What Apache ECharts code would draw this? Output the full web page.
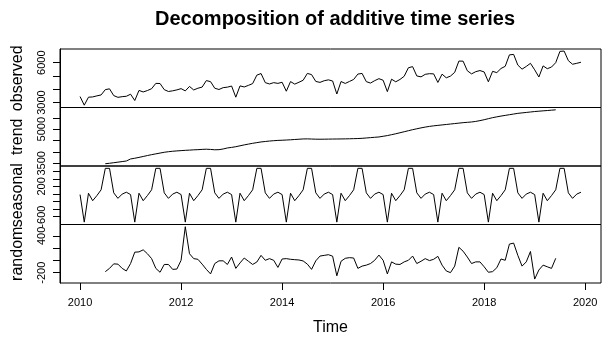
<!DOCTYPE html>
<html>
<head>
<meta charset="utf-8">
<script src="https://cdn.jsdelivr.net/npm/echarts@6/dist/echarts.min.js"></script>
<style>
  html, body { margin: 0; padding: 0; background: #fff; }
  #chart { width: 609px; height: 339px; }
</style>
</head>
<body>
<div id="chart"></div>
<script>
// monthly series, frequency 12
const startYear = 2010
const freq = 12

const observed = [
  3450, 2800, 3400, 3420, 3500, 3570, 3970, 4030, 3520, 3390, 3440, 3470,
  3625, 3150, 3910, 3795, 3900, 4040, 4440, 4430, 3970, 3830, 3880, 3950,
  4045, 3875, 4210, 3945, 4075, 4160, 4650, 4570, 4075, 3980, 4120, 4155,
  4240, 3400, 4250, 4170, 4290, 4425, 5060, 5180, 4495, 4395, 4495, 4440,
  4525, 3850, 4575, 4385, 4525, 4675, 5190, 5100, 4585, 4515, 4640, 4705,
  4620, 3640, 4580, 4435, 4585, 4735, 5140, 5190, 4570, 4465, 4645, 4795,
  4675, 3820, 4755, 4560, 4735, 4975, 5615, 5700, 5000, 4930, 5120, 5170,
  5155, 4510, 5135, 4860, 4990, 5270, 6120, 6110, 5390, 5155, 5320, 5405,
  5300, 4560, 5345, 5250, 5560, 5725, 6585, 6620, 5815, 5510, 5715, 5950,
  5460, 4920, 5755, 5545, 5670, 6000, 6850, 6870, 6150, 5880, 5950, 6030
]

// trend and random start at Jul 2010 (index 6)
const trendStart = 6
const trend = [
  3480, 3500, 3525, 3550, 3575, 3600,
  3690, 3722, 3760, 3800, 3840, 3880, 3915, 3950, 3985, 4010, 4030, 4045,
  4058, 4070, 4080, 4092, 4100, 4112, 4120, 4110, 4095, 4100, 4130, 4175,
  4200, 4230, 4270, 4310, 4345, 4380, 4410, 4440, 4460, 4480, 4495, 4508,
  4515, 4525, 4535, 4548, 4560, 4572, 4575, 4568, 4562, 4560, 4562, 4565,
  4568, 4570, 4572, 4576, 4580, 4585, 4590, 4600, 4615, 4630, 4645, 4660,
  4690, 4720, 4760, 4800, 4845, 4890, 4935, 4980, 5020, 5060, 5095, 5125,
  5150, 5170, 5190, 5210, 5230, 5250, 5270, 5290, 5305, 5320, 5345, 5380,
  5420, 5465, 5510, 5545, 5580, 5610, 5640, 5670, 5700, 5720, 5740, 5760,
  5780, 5795, 5810, 5825, 5840, 5856
]

// one year of the seasonal figure, Jan..Dec
const seasonalPattern = [-16, -745, 19, -178, -43, 110, 678, 678, 30, -116, -3, 46]
const seasonalYears = 10

const random = [
  -182, -129, -55, -60, -129, -171,
  -50, 135, 140, 173, 110, 30, -129, -192, -65, -65, -145, -140,
  3, 550, 110, 30, 19, -60, -145, -219, -50, -6, -6, -65,
  56, -129, -40, 40, -13, -65, -25, 83, 3, 30, 3, -113,
  24, 30, 19, 13, 8, -8, -60, -145, -6, 72, 83, 94,
  70, -250, -13, 35, 46, 40, -129, -92, -76, -50, 3, 88,
  3, -219, -23, -60, -65, -23, 3, 72, -50, -13, 30, -2,
  19, 67, -76, -171, -198, -92, 214, 151, 56, -50, -23, -23,
  -103, -192, -182, -119, 24, 3, 267, 283, 83, -92, -23, 146,
  -303, -155, -76, -103, -129, 35
]

const panelNames = ['observed', 'trend', 'seasonal', 'random']
const yRanges = [[2625, 7027], [3380, 5958], [-808, 740], [-367, 586]]
const yTicks = [
  [3000, 4000, 5000, 6000],
  [3500, 4000, 4500, 5000, 5500],
  [-600, -400, -200, 0, 200, 400, 600],
  [-200, 0, 200, 400]
]
const yLabels = [[3000, 6000], [3500, 5000], [-600, 200], [-200, 400]]
const xTicks = [2010, 2012, 2014, 2016, 2018, 2020]
const xRange = [2009.603, 2020.313]

const seasonal = []
for (let y = 0; y < seasonalYears; y++) seasonal.push(...seasonalPattern)

const toTs = (values, offset) => values.map((v, i) => [startYear + (offset + i) / freq, v])
const panelData = [toTs(observed, 0), toTs(trend, trendStart), toTs(seasonal, 0), toTs(random, trendStart)]

const font = 'Liberation Sans, Arial, sans-serif'
const tops = [49, 107.5, 166, 224.5]
const panelH = 58.5
const plain = v => String(v)

const chart = echarts.init(document.getElementById('chart'), null, { renderer: 'canvas' })

chart.setOption({
  animation: false,
  backgroundColor: '#fff',
  title: {
    text: 'Decomposition of additive time series',
    left: 330,
    top: 4,
    textAlign: 'center',
    textStyle: { fontFamily: font, fontSize: 20, fontWeight: 'bold', color: '#000' }
  },
  grid: tops.map(t => ({
    left: 60, right: 8, top: t, height: panelH,
    show: true, borderColor: '#000', borderWidth: 1, backgroundColor: 'transparent'
  })),
  xAxis: tops.map((t, i) => {
    const last = i === tops.length - 1
    return {
      type: 'value', gridIndex: i, min: xRange[0], max: xRange[1],
      show: last,
      position: 'bottom',
      splitLine: { show: false },
      axisLine: { show: false, onZero: false },
      axisTick: { show: last, length: 7, customValues: xTicks, lineStyle: { color: '#000' } },
      axisLabel: { show: last, customValues: xTicks, formatter: plain, margin: 14, color: '#000', fontSize: 11, fontFamily: font },
      name: last ? 'Time' : '',
      nameLocation: 'middle',
      nameGap: 37,
      nameTextStyle: { fontSize: 16, fontFamily: font, color: '#000' }
    }
  }),
  yAxis: tops.map((t, i) => ({
    type: 'value', gridIndex: i, min: yRanges[i][0], max: yRanges[i][1],
    splitLine: { show: false },
    axisLine: { show: true, onZero: false, lineStyle: { color: '#000' } },
    axisTick: { show: true, length: 7, customValues: yTicks[i], lineStyle: { color: '#000' } },
    axisLabel: { customValues: yLabels[i], formatter: plain, rotate: 90, margin: 13, color: '#000', fontSize: 11, fontFamily: font },
    name: panelNames[i],
    nameLocation: 'middle',
    nameRotate: 90,
    nameGap: 34,
    nameTextStyle: { fontSize: 16, fontFamily: font, color: '#000' }
  })),
  series: panelData.map((d, i) => ({
    type: 'line', xAxisIndex: i, yAxisIndex: i, data: d,
    showSymbol: false, symbol: 'none',
    lineStyle: { color: '#000', width: 1 }
  }))
})
</script>
</body>
</html>
